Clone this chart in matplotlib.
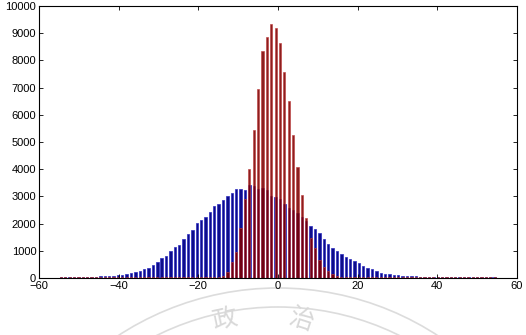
import matplotlib
matplotlib.use("Agg")
import matplotlib.pyplot as plt
from matplotlib.patches import Arc
import numpy as np

# bin centres shared by both histograms (100 bins)
centers = np.linspace(-54.5, 54.4, 100)

wide_counts = [
    40, 35, 40, 45, 40, 45, 50, 45, 55, 60,
    60, 70, 80, 100, 120, 150, 170, 210, 240, 320,
    380, 470, 600, 740, 800, 980, 1130, 1230, 1420, 1620,
    1780, 2010, 2150, 2230, 2440, 2660, 2710, 2870, 3030, 3140,
    3260, 3270, 3220, 3420, 3380, 3260, 3300, 3220, 3010, 2990,
    2900, 2720, 2560, 2500, 2380, 2250, 2100, 1900, 1800, 1650,
    1450, 1250, 1120, 1000, 880, 790, 710, 620, 540, 450,
    370, 320, 240, 200, 150, 140, 120, 100, 85, 70,
    60, 60, 55, 50, 50, 45, 50, 45, 45, 40,
    40, 40, 35, 40, 35, 35, 40, 35, 35, 40,
]

narrow_counts = [
    25, 25, 20, 25, 25, 20, 25, 25, 25, 25,
    25, 25, 25, 25, 25, 25, 25, 25, 25, 25,
    25, 25, 25, 25, 25, 25, 25, 25, 25, 25,
    25, 30, 30, 30, 35, 35, 40, 70, 230, 580,
    970, 1840, 2900, 4000, 5440, 6940, 8360, 8850, 9330, 9200,
    8630, 7560, 6510, 5260, 4090, 3050, 2190, 1460, 1090, 660,
    420, 260, 140, 80, 50, 40, 35, 30, 30, 25,
    25, 25, 25, 25, 25, 25, 25, 25, 25, 25,
    25, 25, 25, 25, 25, 25, 25, 25, 25, 25,
    25, 25, 25, 25, 25, 25, 25, 25, 25, 25,
]

xticks = [-60, -40, -20, 0, 20, 40, 60]
yticks = list(range(0, 10001, 1000))


def main():
    plt.rcParams['font.family'] = ['Liberation Sans', 'DejaVu Sans']
    fig = plt.figure(figsize=(5.26, 3.35), dpi=100)

    # faint watermark behind everything
    wm = fig.add_axes([0, 0, 1, 1], zorder=0)
    wm.set_xlim(0, 526)
    wm.set_ylim(335, 0)
    wm.axis("off")
    for r in (292, 273):
        wm.add_patch(Arc((278, 580), 2 * r, 2 * r, theta1=180, theta2=360,
                         color="#dcdcdc", lw=1.2))
    wm.text(225, 320, "政", fontsize=18, color="#d8d8d8", rotation=12,
            ha="center", va="center", family=["Noto Sans CJK TC"])
    wm.text(302, 320, "治", fontsize=18, color="#d8d8d8", rotation=-18,
            ha="center", va="center", family=["Noto Sans CJK TC"])

    ax = fig.add_axes([39 / 526, 1 - 278 / 335, 478 / 526, 272 / 335], zorder=1)
    ax.patch.set_alpha(0)
    ax.bar(centers, wide_counts, width=0.6, color="#0c0c8a",
           edgecolor="#2a2ac0", linewidth=0.5)
    ax.bar(centers, narrow_counts, width=0.55, color="#7c0000",
           edgecolor="#c04040", linewidth=0.5, alpha=0.88)

    ax.set_xlim(-60, 60)
    ax.set_ylim(0, 10000)
    ax.set_xticks(xticks)
    ax.set_yticks(yticks)
    ax.tick_params(direction="in", top=True, right=True, labelsize=8,
                   length=3, width=0.6, pad=2)
    for s in ax.spines.values():
        s.set_linewidth(0.8)

    fig.savefig("out.png", dpi=100)


if __name__ == "__main__":
    main()
